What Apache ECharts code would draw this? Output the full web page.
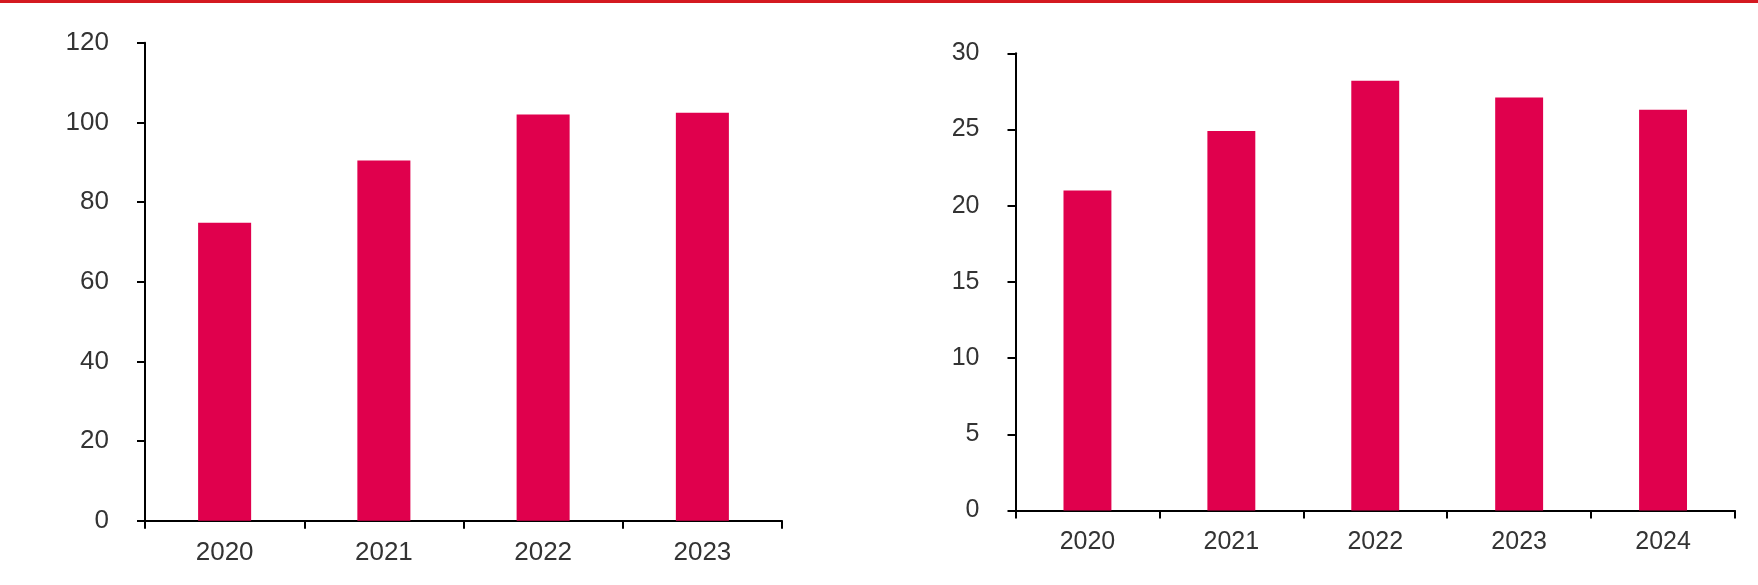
<!DOCTYPE html>
<html>
<head>
<meta charset="utf-8">
<script src="https://cdn.jsdelivr.net/npm/echarts@6/dist/echarts.min.js"></script>
<style>
html,body{margin:0;padding:0;background:#fff;}
#chart{width:1758px;height:585px;}
</style>
</head>
<body>
<div id="chart"></div>
<script>
// Left chart data
const leftCategories = ['2020', '2021', '2022', '2023'];
const leftValues = [74.8, 90.4, 102.0, 102.4];
// Right chart data
const rightCategories = ['2020', '2021', '2022', '2023', '2024'];
const rightValues = [21.0, 24.9, 28.2, 27.1, 26.3];

const barColor = '#E0004D';
const textColor = '#333333';
const fontFamily = '"Liberation Sans", Arial, sans-serif';

const axisLine = { show: true, lineStyle: { color: '#000', width: 2 } };
const axisTick = { show: true, length: 8, lineStyle: { color: '#000', width: 2 } };

const chart = echarts.init(document.getElementById('chart'));
chart.setOption({
  backgroundColor: '#fff',
  animation: false,
  graphic: [{
    type: 'rect', left: 0, top: 0,
    shape: { width: 1758, height: 3 },
    style: { fill: '#D41920' }, silent: true
  }],
  grid: [
    { left: 145, right: 976, top: 42.7, bottom: 64.3 },
    { left: 1015.5, right: 23, top: 53.3, bottom: 74.5 }
  ],
  xAxis: [
    {
      type: 'category', gridIndex: 0, data: leftCategories,
      axisLine: axisLine, axisTick: axisTick,
      axisLabel: { color: textColor, fontSize: 26, fontFamily: fontFamily, margin: 19 }
    },
    {
      type: 'category', gridIndex: 1, data: rightCategories,
      axisLine: axisLine, axisTick: axisTick,
      axisLabel: { color: textColor, fontSize: 25, fontFamily: fontFamily, margin: 19 }
    }
  ],
  yAxis: [
    {
      type: 'value', gridIndex: 0, min: 0, max: 120, interval: 20,
      axisLine: axisLine, axisTick: axisTick, splitLine: { show: false },
      axisLabel: { color: textColor, fontSize: 26, fontFamily: fontFamily, margin: 36 }
    },
    {
      type: 'value', gridIndex: 1, min: 0, max: 30, interval: 5,
      axisLine: axisLine, axisTick: axisTick, splitLine: { show: false },
      axisLabel: { color: textColor, fontSize: 25, fontFamily: fontFamily, margin: 36 }
    }
  ],
  series: [
    {
      type: 'bar', xAxisIndex: 0, yAxisIndex: 0, data: leftValues,
      barWidth: '33.3%', itemStyle: { color: barColor }
    },
    {
      type: 'bar', xAxisIndex: 1, yAxisIndex: 1, data: rightValues,
      barWidth: '33.3%', itemStyle: { color: barColor }
    }
  ]
});
</script>
</body>
</html>
